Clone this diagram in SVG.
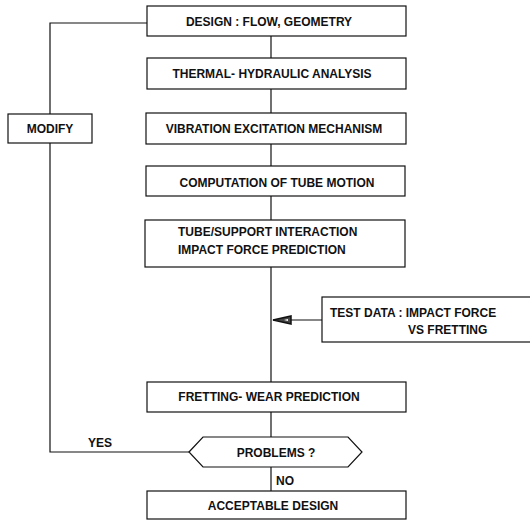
<svg xmlns="http://www.w3.org/2000/svg" width="530" height="520" viewBox="0 0 530 520">
  <style>
    .box { fill: #fff; stroke: #111; stroke-width: 1.2; }
    .line { fill: none; stroke: #111; stroke-width: 1.2; }
    text { font-family: "Liberation Sans", Arial, sans-serif; font-weight: bold; font-size: 12px; fill: #111; }
    .c { text-anchor: middle; }
  </style>
  <defs>
    <marker id="head" viewBox="0 0 20 10" refX="19" refY="5" markerWidth="20" markerHeight="10" markerUnits="userSpaceOnUse" orient="auto">
      <path d="M1,1 L19,5 L1,9 Z" fill="#444" stroke="#111" stroke-width="1.5"/>
      <path d="M4,4 L8,5 L4,6 Z" fill="#fff"/>
    </marker>
  </defs>

  <g id="connectors">
    <line class="line" x1="271" y1="36" x2="271" y2="58"/>
    <line class="line" x1="271" y1="89" x2="271" y2="113"/>
    <line class="line" x1="271" y1="144" x2="271" y2="166"/>
    <line class="line" x1="271" y1="196" x2="271" y2="220"/>
    <line class="line" x1="271" y1="267" x2="271" y2="382"/>
    <line class="line" x1="271" y1="412" x2="271" y2="437"/>
    <line class="line" x1="271" y1="467" x2="271" y2="491"/>
    <line class="line" x1="322" y1="320" x2="273" y2="320" marker-end="url(#head)"/>
    <polyline class="line" points="189,452 50,452 50,23 147,23"/>
    <text x="88" y="447">YES</text>
    <text x="276" y="485">NO</text>
  </g>

  <g id="design">
    <rect class="box" x="147" y="6" width="259" height="30"/>
    <text class="c" x="269" y="26">DESIGN : FLOW, GEOMETRY</text>
  </g>
  <g id="thermal">
    <rect class="box" x="147" y="58" width="259" height="31"/>
    <text class="c" x="272" y="78">THERMAL- HYDRAULIC ANALYSIS</text>
  </g>
  <g id="vibration">
    <rect class="box" x="146" y="113" width="260" height="31"/>
    <text class="c" x="274" y="133">VIBRATION EXCITATION MECHANISM</text>
  </g>
  <g id="computation">
    <rect class="box" x="146" y="166" width="259" height="30"/>
    <text class="c" x="277" y="187">COMPUTATION OF TUBE MOTION</text>
  </g>
  <g id="interaction">
    <rect class="box" x="145" y="220" width="260" height="47"/>
    <text x="178" y="236">TUBE/SUPPORT INTERACTION</text>
    <text x="178" y="254">IMPACT FORCE PREDICTION</text>
  </g>
  <g id="test-data">
    <rect class="box" x="322" y="297" width="212" height="45"/>
    <text x="330" y="317">TEST DATA : IMPACT FORCE</text>
    <text x="408" y="334">VS  FRETTING</text>
  </g>
  <g id="modify">
    <rect class="box" x="8" y="114" width="84" height="29"/>
    <text class="c" x="50" y="133">MODIFY</text>
  </g>
  <g id="fretting">
    <rect class="box" x="147" y="382" width="259" height="30"/>
    <text class="c" x="269" y="401">FRETTING- WEAR PREDICTION</text>
  </g>
  <g id="problems">
    <polygon class="box" points="189,452 203,437 348,437 362,452 348,467 203,467"/>
    <text class="c" x="276" y="457">PROBLEMS ?</text>
  </g>
  <g id="acceptable">
    <rect class="box" x="147" y="491" width="259" height="28"/>
    <text class="c" x="273" y="510">ACCEPTABLE  DESIGN</text>
  </g>
</svg>
